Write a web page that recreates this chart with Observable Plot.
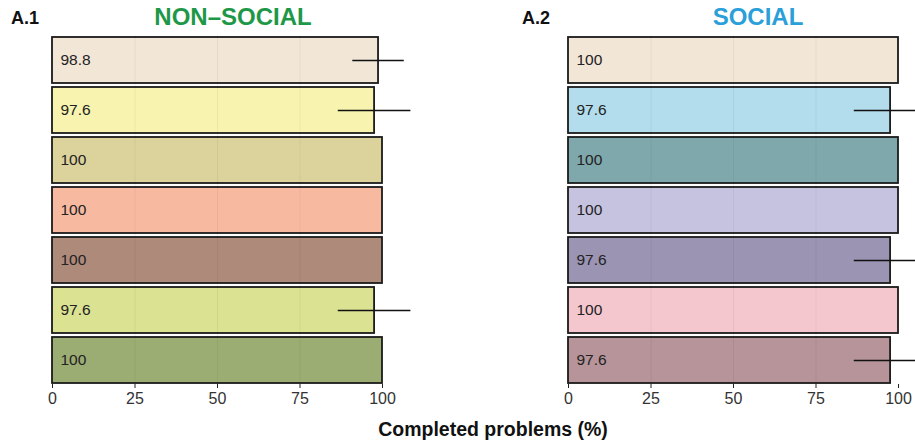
<!DOCTYPE html>
<html>
<head>
<meta charset="utf-8">
<script src="https://cdn.jsdelivr.net/npm/d3@7"></script>
<script src="https://cdn.jsdelivr.net/npm/@observablehq/plot@0.6"></script>
<style>
  html, body { margin: 0; padding: 0; background: #fff; }
  #wrap { position: relative; width: 915px; height: 443px; overflow: hidden; font-family: "Liberation Sans", Arial, Helvetica, sans-serif; }
  .t { position: absolute; font-weight: bold; white-space: nowrap; line-height: 1; }
  .panel { position: absolute; top: 30px; }
</style>
</head>
<body>
<div id="wrap">
  <div class="t" style="left:11px; top:9px; font-size:18px; color:#111;">A.1</div>
  <div class="t" id="title1" style="left:233px; top:5px; font-size:24px; color:#1E9848; transform:translateX(-50%);"></div>
  <div class="t" style="left:522px; top:9px; font-size:18px; color:#111;">A.2</div>
  <div class="t" id="title2" style="left:758px; top:5px; font-size:24px; color:#2B9FD9; transform:translateX(-50%);"></div>
  <div class="panel" id="p1" style="left:0px;"></div>
  <div class="panel" id="p2" style="left:515px;"></div>
  <div class="t" id="xlabel" style="left:493px; top:420px; font-size:19.5px; color:#111; transform:translateX(-50%);"></div>
</div>
<script>
const panelTitles = ["NON–SOCIAL", "SOCIAL"];
const xAxisLabel = "Completed problems (%)";
const conditions = ["1", "2", "3", "4", "5", "6", "7"];
const nonSocialValues = [98.8, 97.6, 100, 100, 100, 97.6, 100];
const nonSocialErrors = [7.8, 11.0, 0, 0, 0, 11.0, 0];
const socialValues = [100, 97.6, 100, 100, 97.6, 100, 97.6];
const socialErrors = [0, 11.0, 0, 0, 11.0, 0, 11.0];
const nonSocialColors = ["#F2E6D7", "#F8F4AF", "#DCD29B", "#F7B9A0", "#AE8A7B", "#DBE292", "#9CAD74"];
const socialColors = ["#F2E6D7", "#B3DDEC", "#7FA8AC", "#C6C3E0", "#9B94B3", "#F4C7CF", "#B69499"];
const xTicks = [0, 25, 50, 75, 100];

document.getElementById("title1").textContent = panelTitles[0];
document.getElementById("title2").textContent = panelTitles[1];
document.getElementById("xlabel").textContent = xAxisLabel;

function panel(values, errors, colors, width, marginLeft, marginRight) {
  const data = conditions.map((c, i) => ({cond: c, value: values[i], err: errors[i]}));
  return Plot.plot({
    width,
    height: 380,
    marginTop: 5,
    marginBottom: 26,
    marginLeft,
    marginRight,
    style: {fontFamily: '"Liberation Sans", Arial, Helvetica, sans-serif', fontSize: "15px", overflow: "visible", background: "transparent", color: "#222"},
    x: {domain: [0, 100], label: null},
    y: {domain: conditions, paddingInner: 0.08, paddingOuter: 0.0, axis: null},
    color: {domain: conditions, range: colors},
    marks: [
      Plot.barX(data, {y: "cond", x1: 0, x2: "value", fill: "cond", stroke: "#1a1a1a", strokeWidth: 1.8}),
      Plot.gridX(xTicks.slice(1, 4), {stroke: "#000", strokeOpacity: 0.05, strokeWidth: 1}),
      Plot.ruleY(data.filter(d => d.err > 0), {y: "cond", x1: d => d.value - d.err, x2: d => d.value + d.err, stroke: "#111", strokeWidth: 1.5}),
      Plot.text(data, {y: "cond", x: 0, text: d => String(d.value), textAnchor: "start", dx: 8, fill: "#222", fontSize: 15.5}),
      Plot.axisX(xTicks, {tickSize: 4, tickPadding: 4, fontSize: 16, fill: "#333", stroke: "#222", label: null})
    ]
  });
}

document.getElementById("p1").appendChild(panel(nonSocialValues, nonSocialErrors, nonSocialColors, 457, 52, 75));
document.getElementById("p2").appendChild(panel(socialValues, socialErrors, socialColors, 400, 53, 17));
</script>
</body>
</html>
